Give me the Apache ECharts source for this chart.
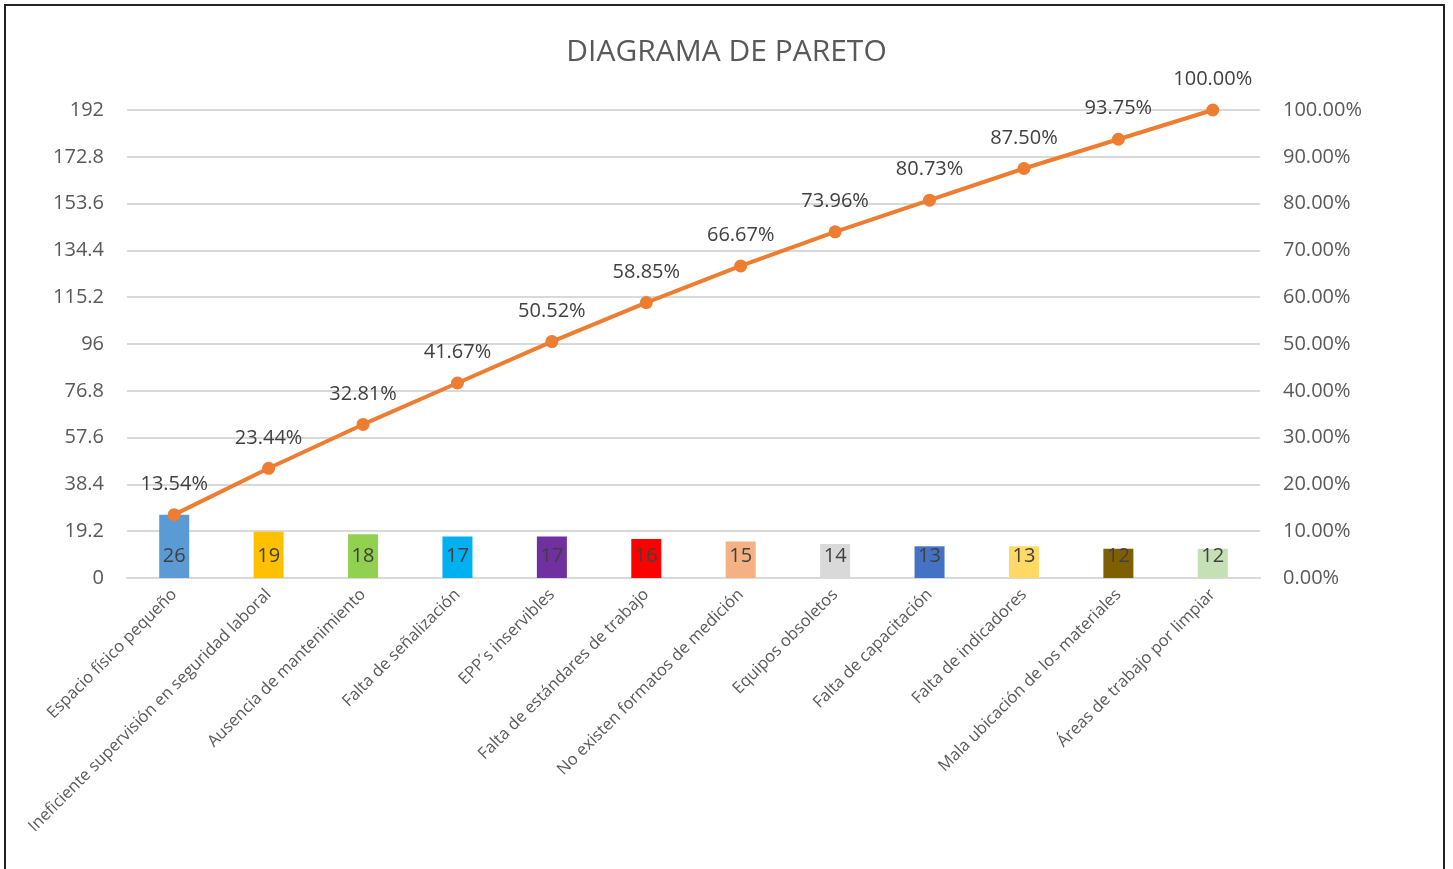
<!DOCTYPE html>
<html>
<head>
<meta charset="utf-8">
<script src="https://cdn.jsdelivr.net/npm/echarts@6/dist/echarts.min.js"></script>
<style>
  html, body { margin: 0; padding: 0; background: #fff; }
  #frame { position: absolute; left: 4px; top: 4px; width: 1441px; height: 880px; border: 2px solid #222; box-sizing: border-box; }
  #chart { position: absolute; left: 0; top: 0; width: 1453px; height: 869px; }
</style>
</head>
<body>
<div id="frame"></div>
<div id="chart"></div>
<script>
    // datos del diagrama
    var categorias = ['Espacio físico pequeño', 'Ineficiente supervisión en seguridad laboral', 'Ausencia de mantenimiento',
        'Falta de señalización', 'EPP´s inservibles', 'Falta de estándares de trabajo', 'No existen formatos de medición',
        'Equipos obsoletos', 'Falta de capacitación', 'Falta de indicadores', 'Mala ubicación de los materiales',
        'Áreas de trabajo por limpiar'];
    var frecuencias = [26, 19, 18, 17, 17, 16, 15, 14, 13, 13, 12, 12];
    var acumulado = [13.54, 23.44, 32.81, 41.67, 50.52, 58.85, 66.67, 73.96, 80.73, 87.50, 93.75, 100.00];
    var colores = ['#5B9BD5', '#FFC000', '#92D050', '#00B0F0', '#7030A0', '#FF0000',
        '#F4B183', '#D9D9D9', '#4472C4', '#FFD966', '#7F6000', '#C5E0B4'];

    var fuente = 'Open Sans';
    var myChart = echarts.init(document.getElementById('chart'));
    var option = {
        animation: false,
        textStyle: { fontFamily: fuente },
        title: {
            text: 'DIAGRAMA DE PARETO',
            left: 'center',
            top: 32,
            textStyle: { fontSize: 30, fontWeight: 'normal', color: '#595959', fontFamily: fuente }
        },
        grid: { left: 127, right: 193, top: 110, bottom: 291 },
        xAxis: {
            type: 'category',
            data: categorias,
            axisLine: { lineStyle: { color: '#d9d9d9', width: 2 } },
            axisTick: { show: false },
            axisLabel: { rotate: 45, color: '#595959', fontSize: 16.5, fontFamily: fuente, interval: 0, margin: 14 }
        },
        yAxis: [
            {
                type: 'value', min: 0, max: 192, interval: 19.2,
                axisLine: { show: false }, axisTick: { show: false },
                splitLine: { lineStyle: { color: '#d9d9d9', width: 2 } },
                axisLabel: {
                    color: '#595959', fontSize: 20, margin: 23,
                    formatter: function (v) { return String(+v.toFixed(1)); }
                }
            },
            {
                type: 'value', min: 0, max: 100, interval: 10,
                axisLine: { show: false }, axisTick: { show: false },
                splitLine: { show: false },
                axisLabel: {
                    color: '#595959', fontSize: 20, margin: 23,
                    formatter: function (v) { return v.toFixed(2) + '%'; }
                }
            }
        ],
        series: [
            {
                type: 'bar',
                barWidth: 30,
                data: frecuencias.map(function (v, i) {
                    return { value: v, itemStyle: { color: colores[i] } };
                }),
                label: { show: true, position: 'insideBottom', distance: 12, color: '#404040', fontSize: 20, fontFamily: fuente }
            },
            {
                type: 'line',
                yAxisIndex: 1,
                data: acumulado,
                lineStyle: { color: '#ED7D31', width: 4 },
                itemStyle: { color: '#ED7D31' },
                symbol: 'circle',
                symbolSize: 13,
                label: {
                    show: true, position: 'top', distance: 14, color: '#404040', fontSize: 20, fontFamily: fuente,
                    formatter: function (p) { return p.value.toFixed(2) + '%'; }
                },
                z: 5
            }
        ]
    };
    myChart.setOption(option);
</script>
</body>
</html>
